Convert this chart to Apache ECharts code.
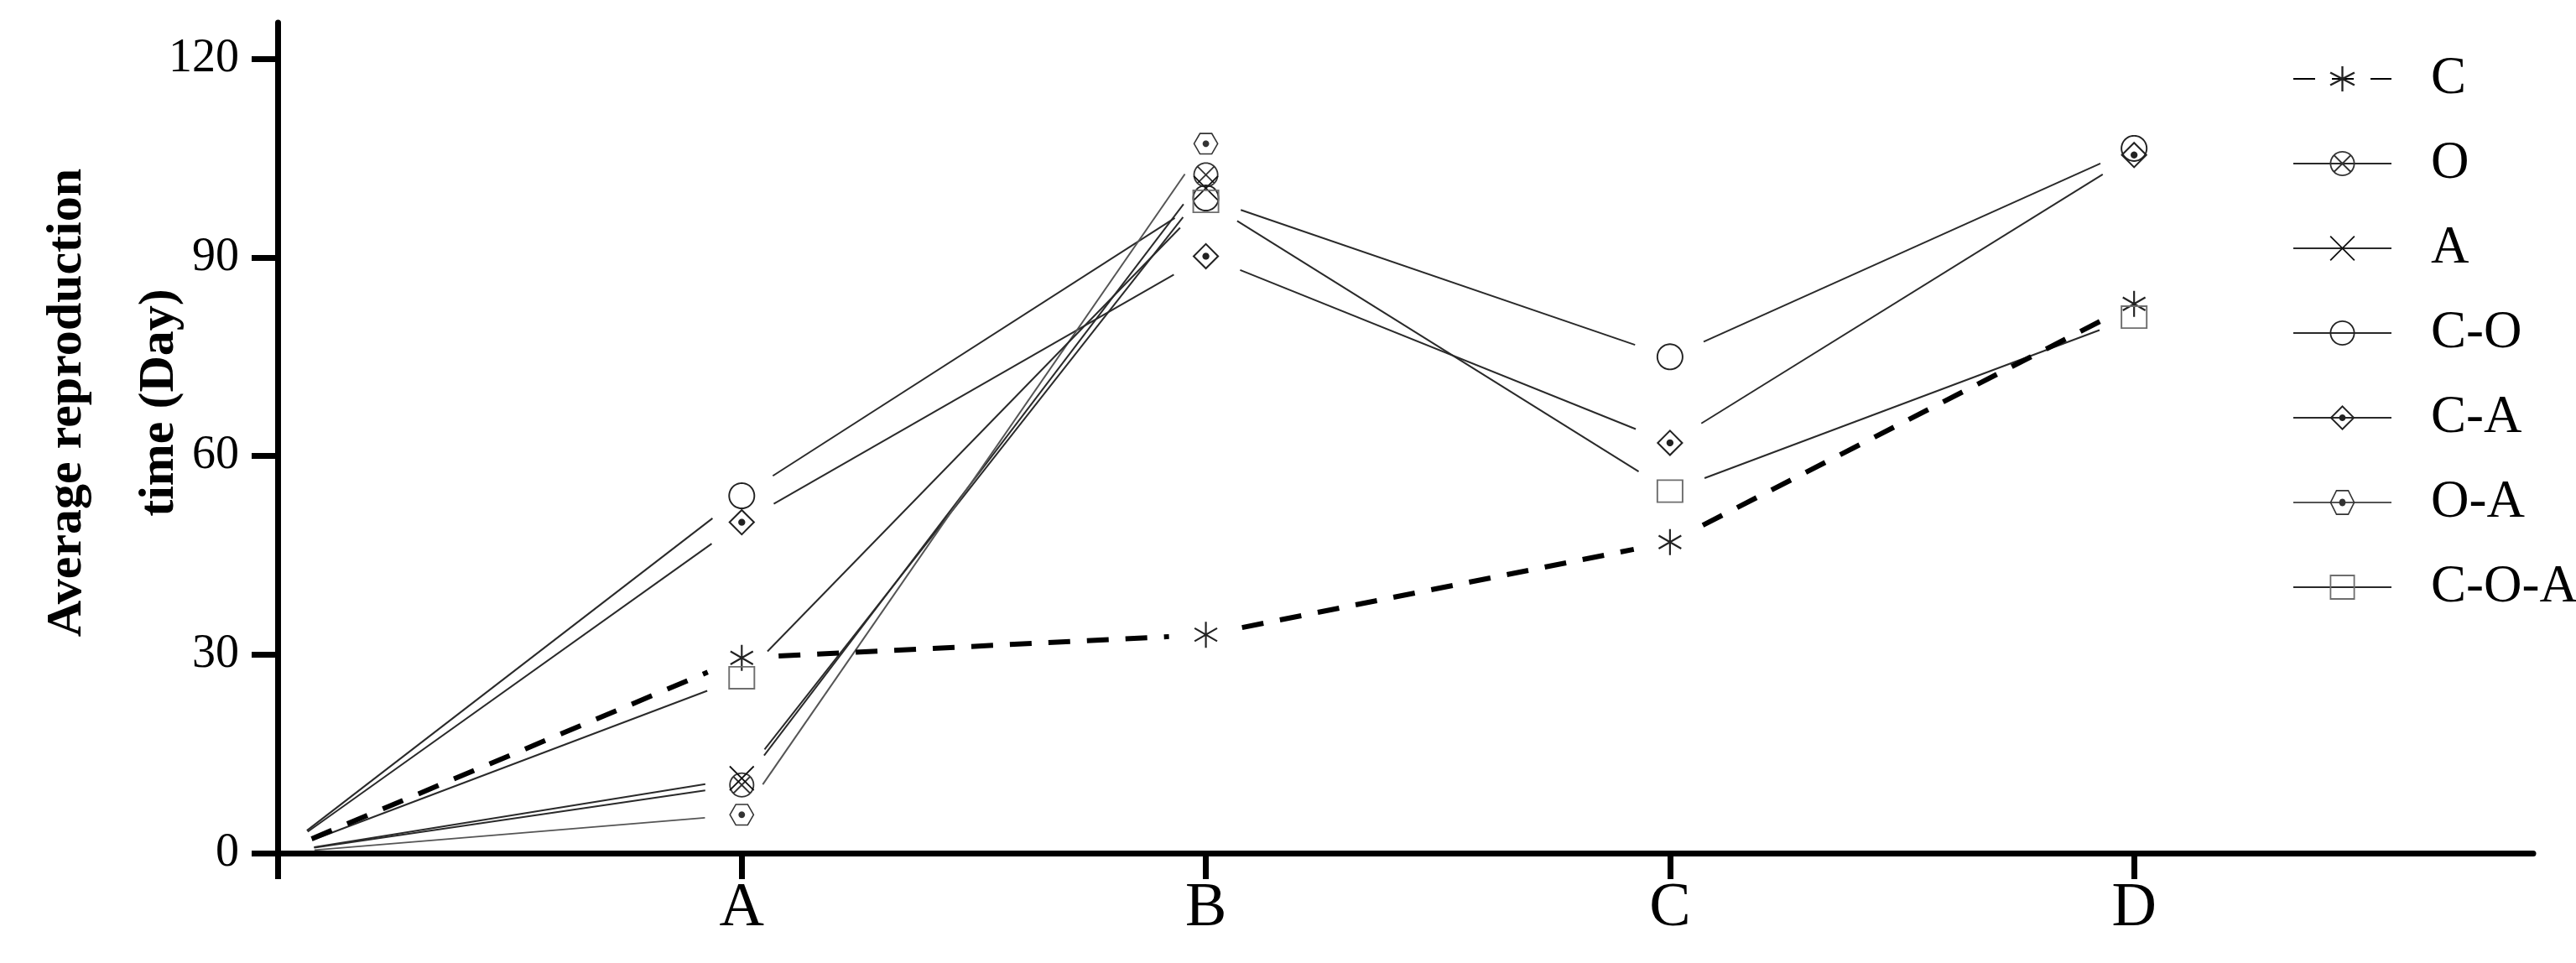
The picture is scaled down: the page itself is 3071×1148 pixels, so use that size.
<!DOCTYPE html>
<html>
<head>
<meta charset="utf-8">
<script src="https://cdn.jsdelivr.net/npm/echarts@6/dist/echarts.min.js"></script>
<style>
html,body{margin:0;padding:0;background:#fff;}
#chart{width:3071px;height:1148px;}
</style>
</head>
<body>
<div id="chart"></div>
<script>
// ---------- DATA ----------
const xLabels = ['', 'A', 'B', 'C', 'D'];      // index 0 = origin (unlabelled)
const yTicks = [0, 30, 60, 90, 120];
const seriesNames = ['C', 'O', 'A', 'C-O', 'C-A', 'O-A', 'C-O-A'];
const valC   = [0, 29.5, 33.0, 47.0, 83.0];
const valO   = [0, 10.3, 102.5];
const valA   = [0, 11.3, 100.5];
const valCO  = [0, 54.0, 99.0, 75.0, 106.5];
const valCA  = [0, 50.0, 90.2, 62.0, 105.5];
const valOA  = [0, 5.8, 107.2];
const valCOA = [0, 26.5, 98.5, 54.7, 81.0];
const seriesValues = [valC, valO, valA, valCO, valCA, valOA, valCOA];

// ---------- SYMBOL PATHS ----------
function fmt(n){ return (Math.round(n*100)/100).toString(); }
function poly(pts){ return 'M' + pts.map(p => fmt(p[0]) + ' ' + fmt(p[1])).join(' L') + ' Z'; }
function ngon(r, n, rot){ const pts = []; for (let k = 0; k < n; k++){ const a = rot + 2*Math.PI*k/n; pts.push([r*Math.cos(a), r*Math.sin(a)]); } return pts; }
function ring(outer, inner){ return poly(outer) + ' ' + poly(inner.slice().reverse()); }
function bar(half, w, ang){
  const c = Math.cos(ang), s = Math.sin(ang), h = w/2;
  const pts = [[-half,-h],[half,-h],[half,h],[-half,h]];
  return poly(pts.map(p => [p[0]*c - p[1]*s, p[0]*s + p[1]*c]));
}
const dot = poly(ngon(13, 24, 0));
const pAsterisk = [bar(50, 7, Math.PI/2), bar(50, 7, Math.PI/6), bar(50, 7, -Math.PI/6)].join(' ');
const pOCross = [ring(ngon(50, 48, 0), ngon(44, 48, 0)), bar(46, 6, Math.PI/4), bar(46, 6, -Math.PI/4)].join(' ');
const pX = [bar(68, 6, Math.PI/4), bar(68, 6, -Math.PI/4)].join(' ');
const pCircle = ring(ngon(50, 48, 0), ngon(44, 48, 0));
const pDiamond = [ring(ngon(50, 4, -Math.PI/2), ngon(41, 4, -Math.PI/2)), dot].join(' ');
const pHex = [ring(ngon(50, 6, 0), ngon(44, 6, 0)), dot].join(' ');
const pSquare = ring([[-50,-44],[50,-44],[50,44],[-50,44]], [[-44,-38],[44,-38],[44,38],[-44,38]]);

const symbolPaths = [pAsterisk, pOCross, pX, pCircle, pDiamond, pHex, pSquare];
const symbolSizes = [31, 30, 30, 32, 32, 30, 32];
const markerColors = ['#222', '#333', '#111', '#222', '#222', '#333', '#6e6e6e'];
const lineColors = ['#000', '#2a2a2a', '#2a2a2a', '#2a2a2a', '#2a2a2a', '#555', '#2a2a2a'];
const lineWidths = [6, 2, 2, 2, 2, 2, 2];
const lineDashes = [[26, 20], null, null, null, null, null, null];
const GAP = 44;

const series = [];
// line segments with gaps around each point (drawn through the axes' coord system)
seriesNames.forEach((name, k) => {
  const vals = seriesValues[k];
  const segs = [];
  for (let i = 0; i < vals.length - 1; i++) segs.push([i, vals[i], i + 1, vals[i + 1]]);
  series.push({
    type: 'custom', name: '_seg_' + name, silent: true, clip: false,
    z: k === 0 ? 4 : 3, animation: false,
    encode: { x: [0, 2], y: [1, 3] },
    data: segs,
    renderItem: function (params, api) {
      const a = api.coord([api.value(0), api.value(1)]);
      const b = api.coord([api.value(2), api.value(3)]);
      const dx = b[0] - a[0], dy = b[1] - a[1];
      const len = Math.sqrt(dx*dx + dy*dy);
      if (len <= 2*GAP) return null;
      const ux = dx/len, uy = dy/len;
      return {
        type: 'line',
        shape: { x1: a[0] + ux*GAP, y1: a[1] + uy*GAP, x2: b[0] - ux*GAP, y2: b[1] - uy*GAP },
        style: { stroke: lineColors[k], lineWidth: lineWidths[k], lineDash: lineDashes[k] || null, lineCap: 'butt' }
      };
    }
  });
});
// markers (line itself hidden; used for legend + symbols)
seriesNames.forEach((name, k) => {
  const vals = seriesValues[k];
  series.push({
    type: 'line', name: name, silent: true, animation: false, z: 5,
    data: vals.map((v, i) => i === 0 ? { value: [i, v], symbol: 'none' } : [i, v]),
    symbol: 'path://' + symbolPaths[k],
    symbolSize: symbolSizes[k],
    symbolKeepAspect: true,
    showAllSymbol: true,
    itemStyle: { color: markerColors[k], borderWidth: 0 },
    lineStyle: { color: lineColors[k], width: lineWidths[k], type: lineDashes[k] || 'solid', opacity: 0 },
    emphasis: { disabled: true }
  });
});

const option = {
  backgroundColor: '#ffffff',
  animation: false,
  grid: { left: 331, top: 27, right: 51, bottom: 131, containLabel: false },
  legend: {
    orient: 'vertical', left: 2728, top: 50,
    itemWidth: 117, itemHeight: 37.5, itemGap: 23,
    selectedMode: false,
    data: seriesNames,
    lineStyle: { opacity: 1 },
    textStyle: { fontFamily: '"Liberation Serif", serif', fontSize: 63, color: '#000', lineHeight: 78, padding: [0, 0, 0, 42] }
  },
  xAxis: {
    type: 'value', min: 0, max: 4.86,
    axisLine: { show: true, onZero: false, lineStyle: { color: '#000', width: 7 } },
    axisTick: { show: true, customValues: [0, 1, 2, 3, 4], length: 31, lineStyle: { color: '#000', width: 7 } },
    axisLabel: {
      customValues: [1, 2, 3, 4],
      formatter: v => xLabels[Math.round(v)],
      fontFamily: '"Liberation Serif", serif', fontSize: 74, color: '#000', margin: 30
    },
    splitLine: { show: false }
  },
  yAxis: {
    type: 'value', min: 0, max: 125.5,
    axisLine: { show: true, onZero: false, lineStyle: { color: '#000', width: 7 } },
    axisTick: { show: true, customValues: yTicks, length: 31, lineStyle: { color: '#000', width: 7 } },
    axisLabel: {
      customValues: yTicks,
      fontFamily: '"Liberation Serif", serif', fontSize: 56, color: '#000', margin: 46
    },
    splitLine: { show: false }
  },
  graphic: [
    { type: 'text', x: 80, y: 480, rotation: Math.PI/2, silent: true,
      style: { text: 'Average reproduction', fontFamily: '"Liberation Serif", serif', fontWeight: 'bold', fontSize: 60,
               fill: '#000', align: 'center', verticalAlign: 'middle', textAlign: 'center', textVerticalAlign: 'middle' } },
    { type: 'text', x: 190, y: 480, rotation: Math.PI/2, silent: true,
      style: { text: 'time (Day)', fontFamily: '"Liberation Serif", serif', fontWeight: 'bold', fontSize: 60,
               fill: '#000', align: 'center', verticalAlign: 'middle', textAlign: 'center', textVerticalAlign: 'middle' } }
  ],
  series: series
};

const chart = echarts.init(document.getElementById('chart'), null, { renderer: 'canvas' });
chart.setOption(option);
</script>
</body>
</html>
